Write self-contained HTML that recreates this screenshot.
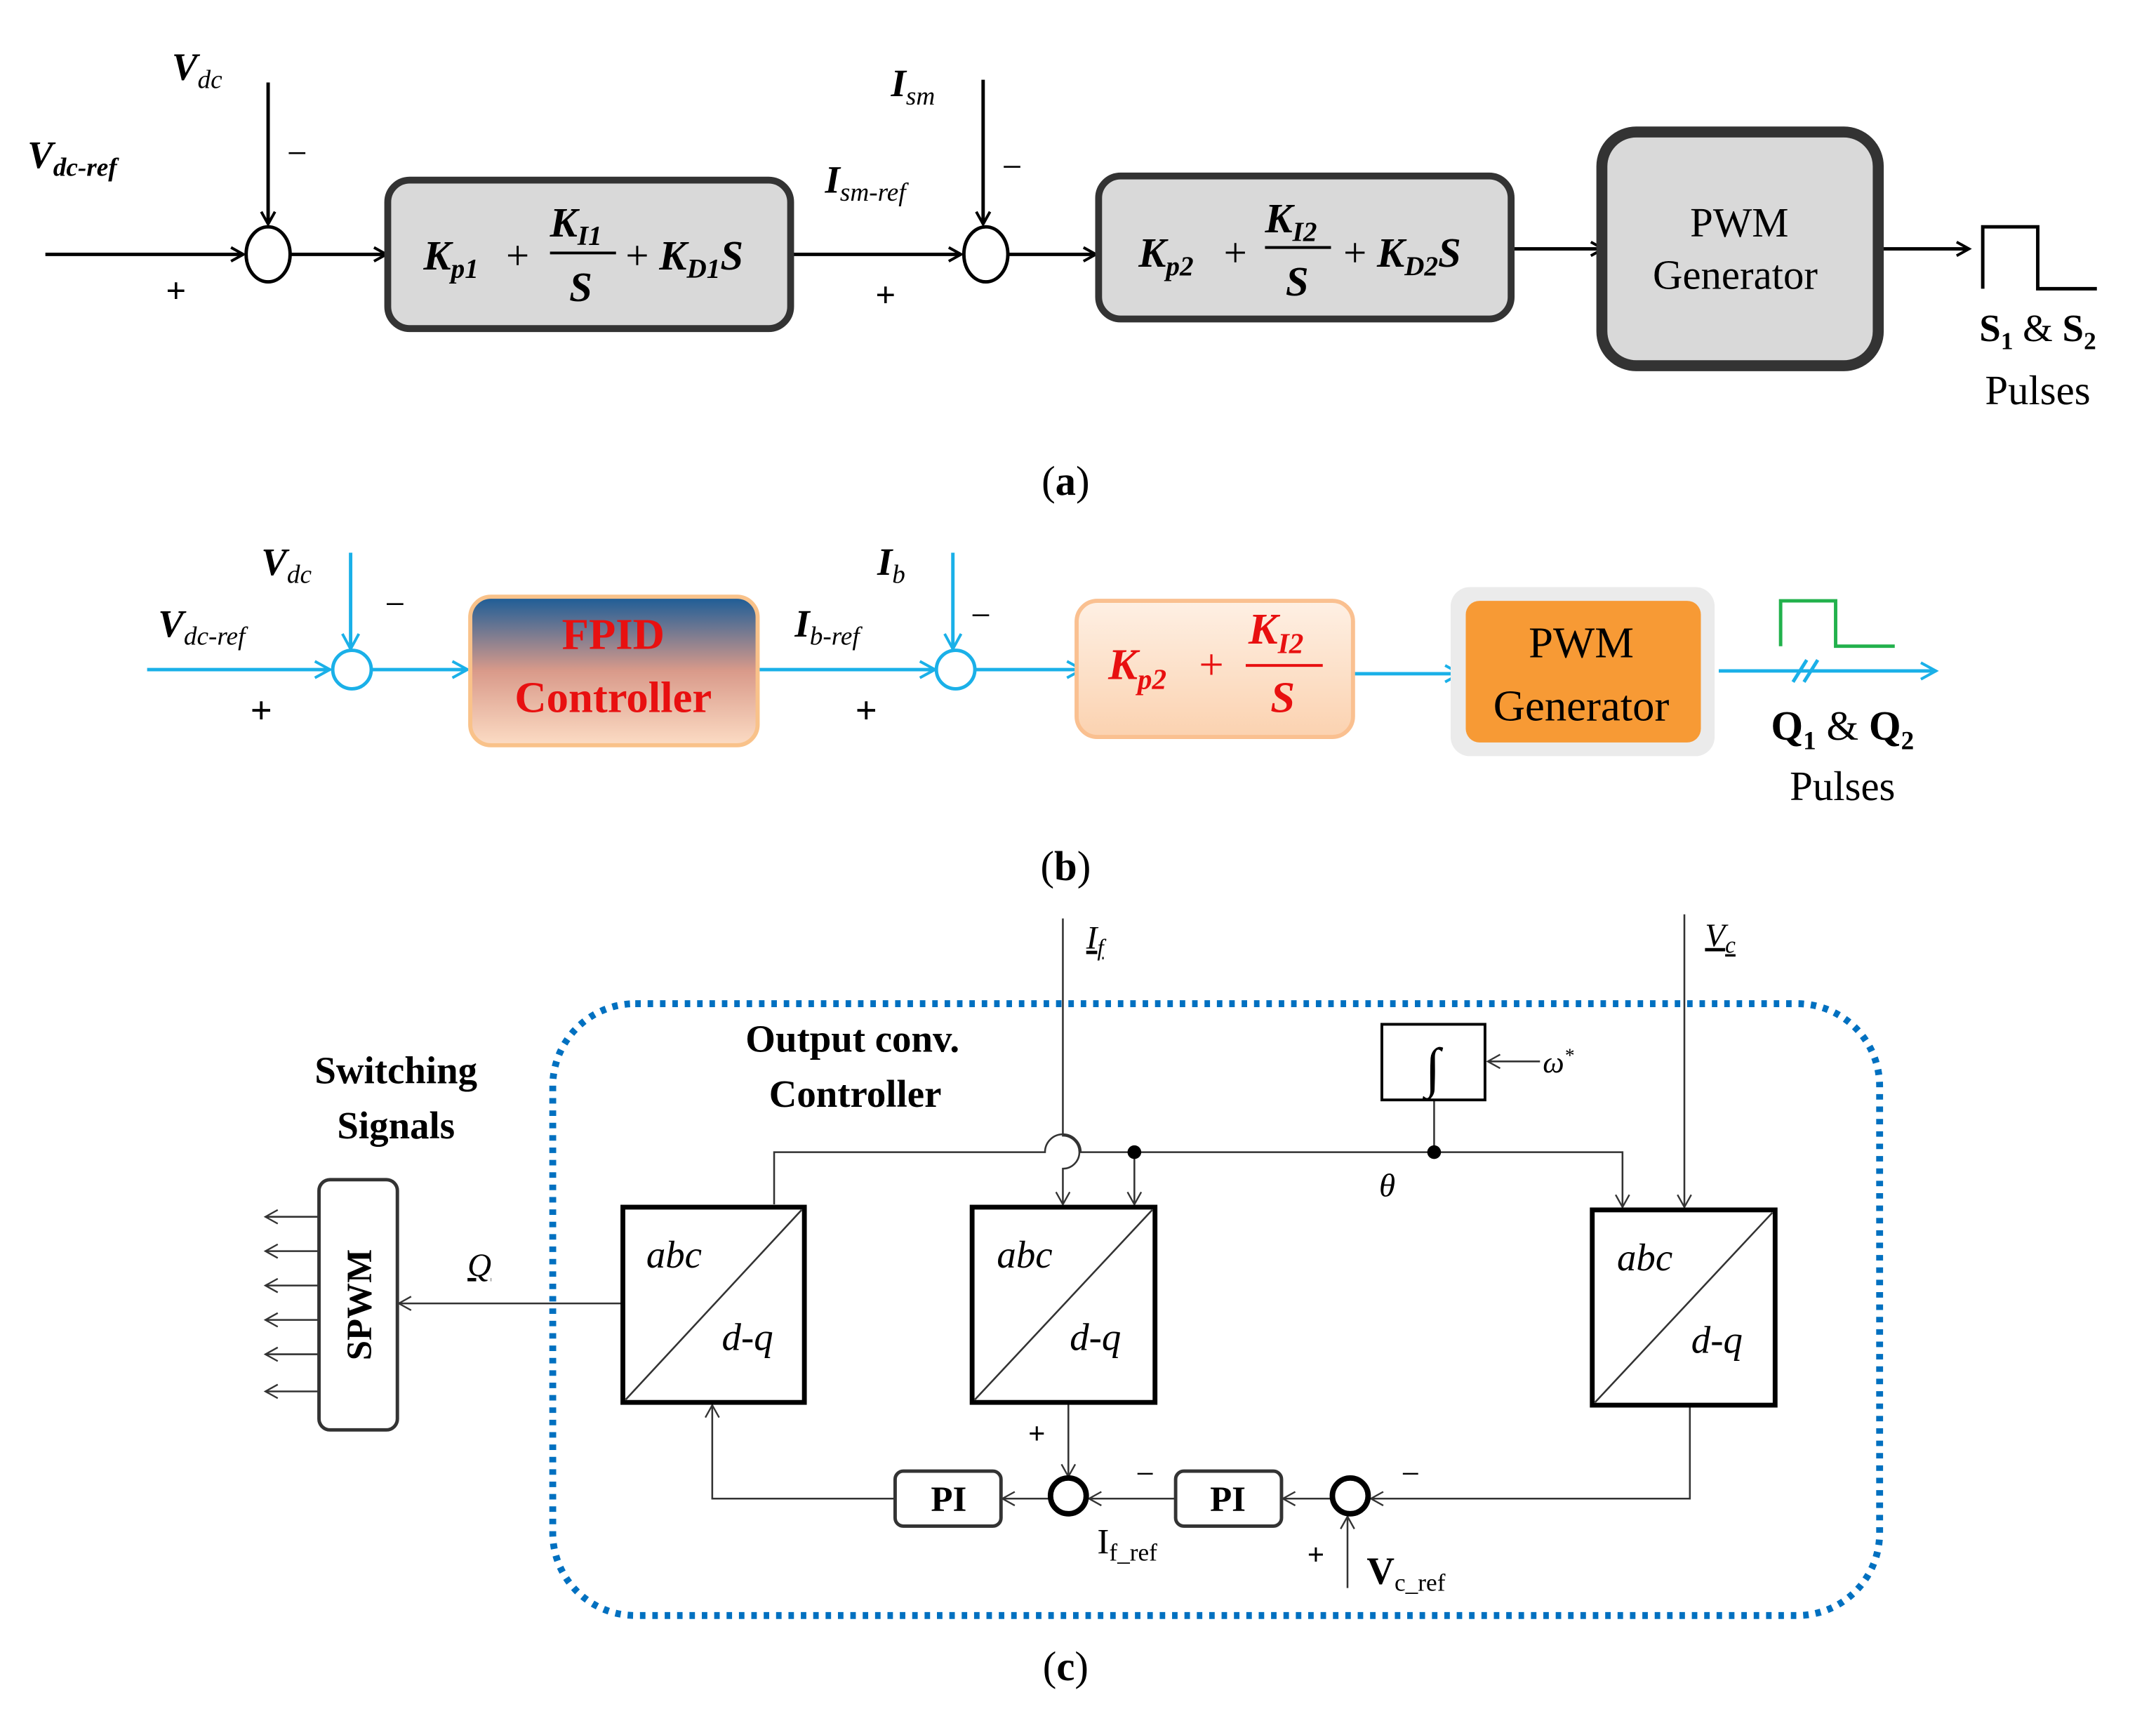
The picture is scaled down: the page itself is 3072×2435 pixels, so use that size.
<!DOCTYPE html>
<html><head><meta charset="utf-8"><style>html,body{margin:0;padding:0;background:#fff}svg{display:block}</style></head><body>
<svg width="3072" height="2435" viewBox="0 0 1568 1243" preserveAspectRatio="none" xmlns="http://www.w3.org/2000/svg" font-family="'Liberation Serif',serif">
<defs>
<marker id="ak" markerWidth="12" markerHeight="12" refX="10" refY="6" orient="auto" markerUnits="userSpaceOnUse"><path d="M1,1 L10,6 L1,11" fill="none" stroke="#000" stroke-width="2"/></marker>
<marker id="ab" markerWidth="14" markerHeight="14" refX="12" refY="7" orient="auto" markerUnits="userSpaceOnUse"><path d="M1,1 L12,7 L1,13" fill="none" stroke="#1ab0e8" stroke-width="2"/></marker>
<marker id="at" markerWidth="12" markerHeight="12" refX="10" refY="6" orient="auto" markerUnits="userSpaceOnUse"><path d="M1,1 L10,6 L1,11" fill="none" stroke="#333" stroke-width="1.2"/></marker>
<linearGradient id="g1" x1="0" y1="0" x2="0" y2="1"><stop offset="0" stop-color="#1b5c97"/><stop offset="0.5" stop-color="#d99a8a"/><stop offset="1" stop-color="#fcdcc4"/></linearGradient>
<linearGradient id="g2" x1="0" y1="0" x2="0" y2="1"><stop offset="0" stop-color="#fef0e4"/><stop offset="1" stop-color="#fbd2b0"/></linearGradient>
</defs>
<!-- (a) -->
<g stroke="#000" stroke-width="2.5" fill="none">
<line x1="195" y1="60" x2="195" y2="163" marker-end="url(#ak)"/>
<ellipse cx="195" cy="185" rx="16" ry="20"/>
<line x1="33" y1="185" x2="177" y2="185" marker-end="url(#ak)"/>
<line x1="211" y1="185" x2="281" y2="185" marker-end="url(#ak)"/>
<line x1="575" y1="185" x2="699" y2="185" marker-end="url(#ak)"/>
<ellipse cx="717" cy="185" rx="16" ry="20"/>
<line x1="715" y1="58" x2="715" y2="163" marker-end="url(#ak)"/>
<line x1="733" y1="185" x2="797" y2="185" marker-end="url(#ak)"/>
<line x1="1099" y1="181" x2="1166" y2="181" marker-end="url(#ak)"/>
<line x1="1366" y1="181" x2="1432" y2="181" marker-end="url(#ak)"/>
<polyline points="1442,210 1442,165 1482,165 1482,210 1525,210"/>
</g>
<rect x="282" y="131" width="293" height="108" rx="16" fill="#d9d9d9" stroke="#333" stroke-width="5"/>
<rect x="799" y="128" width="300" height="104" rx="16" fill="#d9d9d9" stroke="#333" stroke-width="5"/>
<rect x="1165" y="96" width="201" height="170" rx="25" fill="#d9d9d9" stroke="#333" stroke-width="8"/>
<g font-style="italic" font-weight="bold" font-size="28">
<text x="125" y="58">V<tspan font-size="19" font-weight="normal" dy="6">dc</tspan></text>
<text x="20" y="122">V<tspan font-size="19" dy="6">dc-ref</tspan></text>
<text x="648" y="70">I<tspan font-size="19" font-weight="normal" dy="6">sm</tspan></text>
<text x="600" y="140">I<tspan font-size="19" font-weight="normal" dy="6">sm-ref</tspan></text>
<g font-size="30">
<text x="308" y="196">K<tspan font-size="20" dy="6">p1</tspan></text>
<text x="368" y="196" font-style="normal" font-weight="normal">+</text>
<text x="400" y="172">K<tspan font-size="20" dy="6">I1</tspan></text>
<text x="414" y="219">S</text>
<text x="455" y="196"><tspan font-style="normal" font-weight="normal">+ </tspan>K<tspan font-size="20" dy="6">D1</tspan><tspan dy="-6">S</tspan></text>
<text x="828" y="194">K<tspan font-size="20" dy="6">p2</tspan></text>
<text x="890" y="194" font-style="normal" font-weight="normal">+</text>
<text x="920" y="169">K<tspan font-size="20" dy="6">I2</tspan></text>
<text x="935" y="215">S</text>
<text x="977" y="194"><tspan font-style="normal" font-weight="normal">+ </tspan>K<tspan font-size="20" dy="6">D2</tspan><tspan dy="-6">S</tspan></text>
</g>
</g>
<line x1="400" y1="184" x2="448" y2="184" stroke="#000" stroke-width="2"/>
<line x1="920" y1="180" x2="968" y2="180" stroke="#000" stroke-width="2"/>
<g font-size="26" text-anchor="middle">
<text x="128" y="220" font-weight="bold">+</text><text x="216" y="120">−</text>
<text x="644" y="223" font-weight="bold">+</text><text x="736" y="130">−</text>
<text x="1265" y="172" font-size="30">PWM</text><text x="1262" y="210" font-size="30">Generator</text>
<text x="1482" y="248" font-size="28"><tspan font-weight="bold">S<tspan font-size="18" dy="6">1</tspan></tspan><tspan dy="-6"> &amp; </tspan><tspan font-weight="bold">S<tspan font-size="18" dy="6">2</tspan></tspan></text>
<text x="1482" y="294" font-size="30">Pulses</text>
<text x="775" y="360" font-size="30">(<tspan font-weight="bold">a</tspan>)</text>
</g>
<!-- (b) -->
<g stroke="#1ab0e8" stroke-width="2.5" fill="none">
<line x1="107" y1="487" x2="240" y2="487" marker-end="url(#ab)"/>
<circle cx="256" cy="487" r="14"/>
<line x1="255" y1="402" x2="255" y2="472" marker-end="url(#ab)"/>
<line x1="270" y1="487" x2="340" y2="487" marker-end="url(#ab)"/>
<line x1="551" y1="487" x2="680" y2="487" marker-end="url(#ab)"/>
<circle cx="695" cy="487" r="14"/>
<line x1="693" y1="402" x2="693" y2="472" marker-end="url(#ab)"/>
<line x1="709" y1="487" x2="787" y2="487" marker-end="url(#ab)"/>
<line x1="984" y1="490" x2="1062" y2="490" marker-end="url(#ab)"/>
<line x1="1250" y1="488" x2="1408" y2="488" marker-end="url(#ab)"/>
<line x1="1304" y1="496" x2="1314" y2="480"/><line x1="1312" y1="496" x2="1322" y2="480"/>
</g>
<polyline points="1295,470 1295,437 1335,437 1335,470 1378,470" fill="none" stroke="#22b14c" stroke-width="2.5"/>
<rect x="342" y="434" width="209" height="108" rx="15" fill="url(#g1)" stroke="#f9c28a" stroke-width="3"/>
<rect x="783" y="437" width="201" height="99" rx="15" fill="url(#g2)" stroke="#fac090" stroke-width="3"/>
<rect x="1055" y="427" width="192" height="123" rx="14" fill="#ebebeb"/>
<rect x="1066" y="437" width="171" height="103" rx="10" fill="#f79a35"/>
<g font-size="28">
<text x="190" y="418" font-style="italic" font-weight="bold">V<tspan font-size="19" font-weight="normal" dy="6">dc</tspan></text>
<text x="115" y="463" font-style="italic" font-weight="bold">V<tspan font-size="19" font-weight="normal" dy="6">dc-ref</tspan></text>
<text x="638" y="418" font-style="italic" font-weight="bold">I<tspan font-size="19" font-weight="normal" dy="6">b</tspan></text>
<text x="578" y="463" font-style="italic" font-weight="bold">I<tspan font-size="19" font-weight="normal" dy="6">b-ref</tspan></text>
<text x="280" y="448" font-size="26">−</text><text x="706" y="456" font-size="26">−</text>
<text x="190" y="526" font-weight="bold" text-anchor="middle">+</text>
<text x="630" y="526" font-weight="bold" text-anchor="middle">+</text>
<g fill="#e81010" font-weight="bold" text-anchor="middle" font-size="32">
<text x="446" y="472">FPID</text><text x="446" y="518">Controller</text>
</g>
<g fill="#e81010" font-weight="bold" font-style="italic" font-size="32">
<text x="806" y="494">K<tspan font-size="21" dy="7">p2</tspan></text>
<text x="872" y="494" font-style="normal" font-weight="normal">+</text>
<text x="908" y="468">K<tspan font-size="21" dy="7">I2</tspan></text>
<text x="924" y="518">S</text>
</g>
<line x1="906" y1="484" x2="962" y2="484" stroke="#e81010" stroke-width="2"/>
<g text-anchor="middle" font-size="32"><text x="1150" y="478">PWM</text><text x="1150" y="524">Generator</text></g>
<text x="1340" y="538" text-anchor="middle" font-size="30"><tspan font-weight="bold">Q<tspan font-size="19" dy="7">1</tspan></tspan><tspan dy="-7"> &amp; </tspan><tspan font-weight="bold">Q<tspan font-size="19" dy="7">2</tspan></tspan></text>
<text x="1340" y="582" text-anchor="middle" font-size="30">Pulses</text>
<text x="775" y="640" text-anchor="middle" font-size="30">(<tspan font-weight="bold">b</tspan>)</text>
</g>
<!-- (c) -->
<rect x="402" y="730" width="965" height="445" rx="60" fill="none" stroke="#0070c0" stroke-width="5" stroke-dasharray="4,5"/>
<g stroke="#333" stroke-width="1.3" fill="none">
<path d="M773,668 L773,826 A9,9 0 0 1 773,850 L773,876" marker-end="url(#at)"/>
<line x1="1225" y1="665" x2="1225" y2="878" marker-end="url(#at)"/>
<path d="M563,876 L563,838 L760,838 A13,13 0 0 1 786,838 L1180,838 L1180,878" marker-end="url(#at)"/>
<line x1="825" y1="838" x2="825" y2="876" marker-end="url(#at)"/>
<line x1="1043" y1="800" x2="1043" y2="838"/>
<line x1="1120" y1="772" x2="1082" y2="772" marker-end="url(#at)"/>
<line x1="453" y1="948" x2="290" y2="948" marker-end="url(#at)"/>
<line x1="232" y1="885" x2="193" y2="885" marker-end="url(#at)"/>
<line x1="232" y1="910" x2="193" y2="910" marker-end="url(#at)"/>
<line x1="232" y1="935" x2="193" y2="935" marker-end="url(#at)"/>
<line x1="232" y1="960" x2="193" y2="960" marker-end="url(#at)"/>
<line x1="232" y1="985" x2="193" y2="985" marker-end="url(#at)"/>
<line x1="232" y1="1012" x2="193" y2="1012" marker-end="url(#at)"/>
<polyline points="1229,1022 1229,1090 997,1090" marker-end="url(#at)"/>
<line x1="980" y1="1155" x2="980" y2="1103" marker-end="url(#at)"/>
<line x1="969" y1="1090" x2="933" y2="1090" marker-end="url(#at)"/>
<line x1="855" y1="1090" x2="792" y2="1090" marker-end="url(#at)"/>
<line x1="777" y1="1020" x2="777" y2="1074" marker-end="url(#at)"/>
<line x1="763" y1="1090" x2="729" y2="1090" marker-end="url(#at)"/>
<polyline points="651,1090 518,1090 518,1022" marker-end="url(#at)"/>
</g>
<g stroke="#000" stroke-width="3.5" fill="#fff">
<rect x="453" y="878" width="132" height="142"/><rect x="707" y="878" width="133" height="142"/><rect x="1158" y="880" width="133" height="142"/>
</g>
<g stroke="#333" stroke-width="1.3"><line x1="455" y1="1018" x2="583" y2="880"/><line x1="709" y1="1018" x2="838" y2="880"/><line x1="1160" y1="1020" x2="1289" y2="882"/></g>
<rect x="1005" y="745" width="75" height="55" fill="#fff" stroke="#000" stroke-width="2"/>
<rect x="232" y="858" width="57" height="182" rx="8" fill="#fff" stroke="#333" stroke-width="2.5"/>
<rect x="651" y="1070" width="77" height="40" rx="6" fill="#fff" stroke="#333" stroke-width="2.5"/>
<rect x="855" y="1070" width="77" height="40" rx="6" fill="#fff" stroke="#333" stroke-width="2.5"/>
<circle cx="777" cy="1088" r="13" fill="#fff" stroke="#000" stroke-width="4"/>
<circle cx="982" cy="1088" r="13" fill="#fff" stroke="#000" stroke-width="4"/>
<circle cx="825" cy="838" r="5"/><circle cx="1043" cy="838" r="5"/>
<g font-size="28">
<text x="1042" y="790" text-anchor="middle" font-size="40">∫</text>
<text x="1122" y="780" font-style="italic" font-size="22">ω<tspan font-size="14" dy="-8">*</tspan></text>
<text x="1003" y="870" font-style="italic" font-size="24">θ</text>
<text x="790" y="690" font-style="italic" font-size="24" text-decoration="underline">I<tspan font-size="17" dy="5">f</tspan></text>
<text x="1240" y="688" font-style="italic" font-size="24" text-decoration="underline">V<tspan font-size="17" dy="5">c</tspan></text>
<text x="340" y="928" font-style="italic" font-size="24" text-decoration="underline">Q</text>
<g font-weight="bold" text-anchor="middle" font-size="28">
<text x="288" y="788">Switching</text><text x="288" y="828">Signals</text>
<text x="620" y="765">Output conv.</text><text x="622" y="805">Controller</text>
<text x="690" y="1099" font-size="26">PI</text><text x="893" y="1099" font-size="26">PI</text>
<text transform="translate(270,949) rotate(-90)" font-size="26">SPWM</text>
<text x="754" y="1050" font-size="22">+</text><text x="957" y="1138" font-size="22">+</text>
</g>
<text x="826" y="1080" font-size="24">−</text><text x="1019" y="1080" font-size="24">−</text>
<g font-style="italic" font-size="28"><text x="470" y="922">abc</text><text x="525" y="982">d-q</text>
<text x="725" y="922">abc</text><text x="778" y="982">d-q</text>
<text x="1176" y="924">abc</text><text x="1230" y="984">d-q</text></g>
<text x="798" y="1130" font-size="26">I<tspan font-size="18" dy="5">f_ref</tspan></text>
<text x="994" y="1152" font-size="28" font-weight="bold">V<tspan font-size="18" font-weight="normal" dy="5">c_ref</tspan></text>
<text x="775" y="1222" text-anchor="middle" font-size="30">(<tspan font-weight="bold">c</tspan>)</text>
</g>
</svg>
</body></html>
